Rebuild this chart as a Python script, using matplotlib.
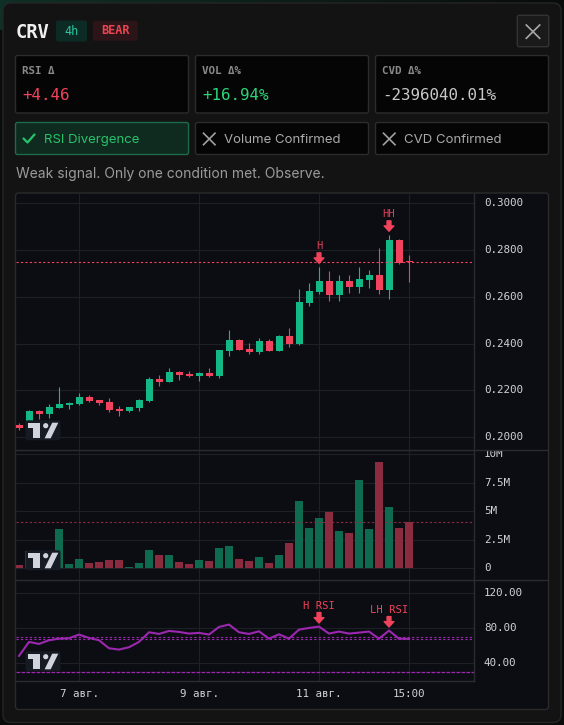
import numpy as np
import matplotlib
matplotlib.use("Agg")
import matplotlib.pyplot as plt
from matplotlib.patches import FancyBboxPatch, Rectangle, Polygon, Circle
from matplotlib.transforms import blended_transform_factory, Bbox, TransformedBbox

# CRV 4h candles
opens = [0.2052, 0.2042, 0.2112, 0.2100, 0.2126, 0.2137, 0.2142, 0.2171, 0.2159, 0.2150,
         0.2122, 0.2113, 0.2126, 0.2154, 0.2249, 0.2236, 0.2278, 0.2270, 0.2261, 0.2274,
         0.2261, 0.2368, 0.2415, 0.2377, 0.2364, 0.2411, 0.2368, 0.2432, 0.2398, 0.2574,
         0.2621, 0.2668, 0.2608, 0.2668, 0.2642, 0.2672, 0.2693, 0.2629, 0.2843, 0.2752]
highs = [0.2060, 0.2116, 0.2117, 0.2142, 0.2214, 0.2150, 0.2189, 0.2180, 0.2159, 0.2167,
         0.2133, 0.2129, 0.2163, 0.2257, 0.2266, 0.2296, 0.2283, 0.2283, 0.2278, 0.2296,
         0.2373, 0.2458, 0.2420, 0.2402, 0.2424, 0.2420, 0.2437, 0.2467, 0.2634, 0.2659,
         0.2728, 0.2711, 0.2693, 0.2693, 0.2728, 0.2715, 0.2809, 0.2865, 0.2847, 0.2779]
lows = [0.2032, 0.2038, 0.2077, 0.2083, 0.2126, 0.2122, 0.2137, 0.2150, 0.2137, 0.2107,
        0.2090, 0.2107, 0.2112, 0.2150, 0.2219, 0.2236, 0.2244, 0.2257, 0.2240, 0.2257,
        0.2253, 0.2347, 0.2373, 0.2355, 0.2355, 0.2368, 0.2368, 0.2385, 0.2394, 0.2561,
        0.2612, 0.2582, 0.2582, 0.2616, 0.2616, 0.2638, 0.2612, 0.2591, 0.2740, 0.2663]
closes = [0.2040, 0.2112, 0.2100, 0.2129, 0.2142, 0.2147, 0.2171, 0.2154, 0.2146, 0.2116,
          0.2113, 0.2129, 0.2159, 0.2249, 0.2236, 0.2278, 0.2266, 0.2261, 0.2274, 0.2261,
          0.2373, 0.2415, 0.2373, 0.2364, 0.2411, 0.2368, 0.2432, 0.2398, 0.2578, 0.2625,
          0.2668, 0.2608, 0.2668, 0.2642, 0.2676, 0.2693, 0.2629, 0.2843, 0.2745, 0.2749]
volume_m = [0.32, 1.53, 0.80, 1.00, 3.44, 0.40, 0.84, 0.49, 0.58, 0.75,
            0.75, 0.14, 0.49, 1.62, 1.18, 1.18, 0.58, 0.40, 0.75, 0.66,
            1.79, 1.97, 0.84, 0.66, 1.01, 0.49, 1.18, 2.23, 5.87, 3.53,
            4.39, 4.91, 3.27, 3.09, 7.69, 3.44, 9.33, 5.35, 3.53, 4.05]
rsi = [48.4, 64.2, 61.9, 66.1, 67.9, 68.3, 72.5, 68.7, 66.1, 57.0,
       55.5, 58.2, 64.2, 75.1, 73.2, 76.6, 75.5, 73.6, 74.4, 72.5,
       81.1, 83.8, 75.1, 73.2, 76.2, 67.9, 72.8, 67.9, 78.1, 80.0,
       81.5, 73.6, 75.9, 73.6, 74.7, 75.9, 67.9, 77.0, 67.9, 67.6]

price_ticks = [0.20, 0.22, 0.24, 0.26, 0.28, 0.30]
vol_ticks = [0, 2.5, 5, 7.5, 10]
vol_labels = ["0", "2.5M", "5M", "7.5M", "10M"]
rsi_ticks = [40, 80, 120]
rsi_levels = [70, 30]
time_ticks = [6, 18, 30, 39]
time_labels = ["7 авг.", "9 авг.", "11 авг.", "15:00"]

metric_names = ["RSI Δ", "VOL Δ%", "CVD Δ%"]
metric_values = ["+4.46", "+16.94%", "-2396040.01%"]
check_names = ["RSI Divergence", "Volume Confirmed", "CVD Confirmed"]
check_ok = [True, False, False]
price_marks = [(30, "H"), (37, "HH")]
rsi_marks = [(30, "H RSI"), (37, "LH RSI")]

# colours
UP, DN = "#13b886", "#f1435d"
VUP, VDN = "#0f6b50", "#8b2b3f"
PURPLE = "#9c27b0"
GRID = "#1d2027"
SEP = "#2a2c31"
TXT = "#cfd2d8"
MONO = "DejaVu Sans Mono"
SANS = "Inter"

W, H = 564, 725
fig = plt.figure(figsize=(W / 100, H / 100), dpi=100)
fig.patch.set_facecolor("#0a0c0c")

# background layer in pixel coordinates
bg = fig.add_axes([0, 0, 1, 1], zorder=0)
bg.set_xlim(0, W)
bg.set_ylim(H, 0)
bg.axis("off")

glow = np.zeros((1, 300, 4))
glow[..., 0], glow[..., 1], glow[..., 2] = 0.06, 0.19, 0.15
glow[0, :, 3] = np.linspace(1.0, 0.0, 300)
bg.imshow(glow, extent=(0, W, 30, 0), aspect="auto", zorder=0)

bg.add_patch(FancyBboxPatch((3, 3), 558, 719.5, boxstyle="round,pad=0,rounding_size=8",
                            fc="#131313", ec="#252525", lw=1, zorder=1))

# header
bg.text(15.5, 38.3, "CRV", family=MONO, weight="bold", fontsize=13.5, color="#f0f0f0",
        va="baseline", zorder=3)
bg.add_patch(FancyBboxPatch((56, 20.5), 31, 21, boxstyle="round,pad=0,rounding_size=2",
                            fc="#0d2b25", ec="none", zorder=2))
bg.text(71.5, 35, "4h", family=MONO, fontsize=8.6, color="#2fc4a0", ha="center",
        va="baseline", zorder=3)
bg.add_patch(FancyBboxPatch((93, 20.7), 44.7, 20, boxstyle="round,pad=0,rounding_size=2",
                            fc="#2b1518", ec="none", zorder=2))
bg.text(115.3, 34.3, "BEAR", family=MONO, weight="bold", fontsize=8.6, color="#ea4450",
        ha="center", va="baseline", zorder=3)
bg.add_patch(FancyBboxPatch((517.3, 15.3), 31.4, 31.4, boxstyle="round,pad=0,rounding_size=2",
                            fc="#1a1a1a", ec="#333333", lw=1, zorder=2))
bg.plot([526.3, 539.7], [25, 38.3], color="#a8a8a8", lw=1.2, zorder=3)
bg.plot([526.3, 539.7], [38.3, 25], color="#a8a8a8", lw=1.2, zorder=3)

# metric boxes
box_x = [15.5, 195.5, 375.5]
value_colors = ["#f1435d", "#2ed47a", "#c8c8c8"]
for bx, name, val, vc in zip(box_x, metric_names, metric_values, value_colors):
    bg.add_patch(FancyBboxPatch((bx, 55.5), 173, 57.5, boxstyle="round,pad=0,rounding_size=2",
                                fc="#050505", ec="#2c2c2c", lw=1, zorder=2))
    bg.text(bx + 7, 74.3, name, family=MONO, weight="bold", fontsize=7.8, color="#8a8a8a",
            va="baseline", zorder=3)
    bg.text(bx + 7, 100.3, val, family=MONO, fontsize=11.4, color=vc, va="baseline", zorder=3)

for bx, name, ok in zip(box_x, check_names, check_ok):
    fc, ec, tc = ("#0f2a1f", "#1d6b48", "#27c36a") if ok else ("#050505", "#2c2c2c", "#aaaaaa")
    bg.add_patch(FancyBboxPatch((bx, 122.5), 173, 32, boxstyle="round,pad=0,rounding_size=2",
                                fc=fc, ec=ec, lw=1, zorder=2))
    if ok:
        bg.plot([bx + 8, bx + 12, bx + 19], [138.5, 142.5, 134.5], color=tc, lw=1.6,
                solid_capstyle="round", zorder=3)
    else:
        bg.plot([bx + 8, bx + 19.5], [133.2, 144.7], color="#a0a0a0", lw=1.2, zorder=3)
        bg.plot([bx + 8, bx + 19.5], [144.7, 133.2], color="#a0a0a0", lw=1.2, zorder=3)
    bg.text(bx + 29, 142.7, name, family=SANS, fontsize=9.5, color=tc, va="baseline", zorder=3)

bg.text(15.5, 178.3, "Weak signal. Only one condition met. Observe.", family=SANS,
        fontsize=10.0, color="#9b9b9b", va="baseline", zorder=3)

# chart panel
bg.add_patch(FancyBboxPatch((15.5, 193), 533, 516.5, boxstyle="round,pad=0,rounding_size=3",
                            fc="#0c0d12", ec="#2a2a2a", lw=1, zorder=2))


def pane(top_px, bot_px):
    ax = fig.add_axes([16 / W, 1 - bot_px / H, 458 / W, (bot_px - top_px) / H], zorder=1)
    ax.set_facecolor("none")
    for s in ax.spines.values():
        s.set_visible(False)
    ax.set_xticks([])
    ax.set_yticks([])
    ax.set_xlim(-0.3, 45.5)
    for t in time_ticks:
        ax.axvline(t, color=GRID, lw=0.8, zorder=0)
    return ax


def scale_labels(ax, ticks, labels):
    tr = blended_transform_factory(ax.transAxes, ax.transData)
    out = []
    for t, lab in zip(ticks, labels):
        ax.axhline(t, color=GRID, lw=0.8, zorder=0)
        out.append(ax.text(1.0218, t, lab, transform=tr, ha="left", va="center",
                           family=MONO, fontsize=7.8, color=TXT, clip_on=False))
    return out


x = np.arange(len(opens))

# price pane
pax = pane(193, 450)
pax.set_ylim(0.19446, 0.30441)
scale_labels(pax, price_ticks, [f"{t:.4f}" for t in price_ticks])
for i, o, hi, lo, c in zip(x, opens, highs, lows, closes):
    col = UP if c >= o else DN
    pax.vlines(i, lo, hi, color=col, lw=0.8, zorder=2)
    pax.add_patch(Rectangle((i - 0.35, min(o, c)), 0.7, max(abs(c - o), 0.0004),
                            fc=col, ec="none", zorder=3))
pax.axhline(closes[-1], color=DN, lw=0.8, ls=(0, (2, 2)), zorder=4)


def mark(ax, i, y, label, tip, tail, txt, color, tcolor):
    ax.annotate("", xy=(i, y), xytext=(0, tail), textcoords="offset pixels",
                xycoords="data",
                arrowprops=dict(arrowstyle="simple,head_length=0.55,head_width=1.0,tail_width=0.4",
                                mutation_scale=7, color=color, shrinkA=0, shrinkB=tip),
                zorder=6)
    ax.annotate(label, xy=(i, y), xytext=(0, txt), textcoords="offset pixels",
                ha="center", va="center", family=MONO, fontsize=7.6, color=tcolor, zorder=6)


for i, lab in price_marks:
    mark(pax, i, highs[i], lab, 2.6, 14, 21, "#f0435c", "#d9405a")

# volume pane
vax = pane(450, 580)
vax.set_ylim(-1.02, 10.34)
vlabs = scale_labels(vax, vol_ticks, vol_labels)
clip = TransformedBbox(Bbox([[16 / W, 1 - 580 / H], [548 / W, 1 - 450 / H]]), fig.transFigure)
for t in vlabs:
    t.set_clip_on(True)
    t.set_clip_box(clip)
vcols = [VUP if c >= o else VDN for o, c in zip(opens, closes)]
vax.bar(x, volume_m, width=0.88, color=vcols, zorder=2)
vax.axhline(volume_m[-1], color=VDN, lw=0.8, ls=(0, (2, 2)), zorder=4)

# rsi pane
rax = pane(580, 681)
rax.set_ylim(20.0, 134.2)
scale_labels(rax, rsi_ticks, [f"{t:.2f}" for t in rsi_ticks])
rax.axhline(rsi_levels[0], color=PURPLE, lw=0.8, ls=(0, (2, 2)), zorder=1)
rax.axhline(rsi[-1], color=PURPLE, lw=0.8, ls=(0, (2, 2)), zorder=1)
rax.axhline(rsi_levels[1], color=PURPLE, lw=0.9, ls=(0, (3, 1)), zorder=1)
rax.plot(x, rsi, color=PURPLE, lw=1.5, zorder=3)
for i, lab in rsi_marks:
    mark(rax, i, rsi[i], lab, 2.6, 14, 21, "#f0435c", "#f0435c")

ttr = blended_transform_factory(rax.transData, rax.transAxes)
for t, lab in zip(time_ticks, time_labels):
    rax.text(t, -0.1287, lab, transform=ttr, ha="center", va="center", family=MONO,
             fontsize=7.8, color=TXT, clip_on=False)

# overlay: pane separators and watermark logos
ov = fig.add_axes([0, 0, 1, 1], zorder=5)
ov.set_xlim(0, W)
ov.set_ylim(H, 0)
ov.axis("off")
for yy in (450, 580):
    ov.plot([16, 548], [yy, yy], color=SEP, lw=1.0)
ov.plot([474, 474], [193.5, 681], color=SEP, lw=1.0)
ov.plot([16, 474], [681, 681], color=SEP, lw=1.0)

for pb in (450, 580, 681):
    yb = pb - 11.7
    ov.add_patch(FancyBboxPatch((25.5, yb - 18), 35, 20, boxstyle="round,pad=0,rounding_size=2",
                                fc="#161a22", ec="none"))
    ov.add_patch(Polygon([(28.3, yb - 15.6), (40, yb - 15.6), (40, yb), (33.3, yb),
                          (33.3, yb - 10), (28.3, yb - 10)], closed=True, fc="#d1d4dc", ec="none"))
    ov.add_patch(Circle((45.7, yb - 12.6), 2.6, fc="#d1d4dc", ec="none"))
    ov.add_patch(Polygon([(52.2, yb - 15.6), (58.3, yb - 15.6), (50.7, yb), (44.6, yb)],
                         closed=True, fc="#d1d4dc", ec="none"))

fig.savefig("out.png", dpi=100, facecolor=fig.get_facecolor())
